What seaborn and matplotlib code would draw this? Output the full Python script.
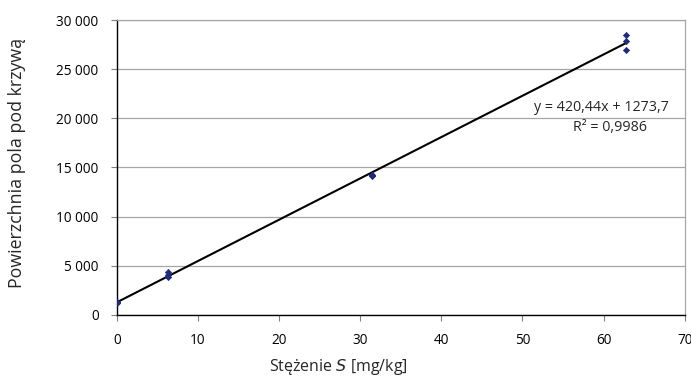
import numpy as np
import pandas as pd
import matplotlib
matplotlib.use("Agg")
import matplotlib.pyplot as plt
import seaborn as sns
from matplotlib.ticker import FuncFormatter, MultipleLocator

# measured calibration points
conc = [0, 0, 0, 6.28, 6.28, 6.28, 31.4, 31.4, 31.4, 62.8, 62.8, 62.8]
area = [1250, 1300, 1330, 3900, 4050, 4400, 14100, 14200, 14250, 27000, 27900, 28500]

# trend line from the chart
slope = 420.44
intercept = 1273.7
eq_label = "y = 420,44x + 1273,7"
r2_label = "R² = 0,9986"

df = pd.DataFrame({"conc": conc, "area": area})
fit_x = np.array([min(conc), max(conc)])
fit = pd.DataFrame({"conc": fit_x, "area": slope * fit_x + intercept})

sns.set_theme(style="white")
plt.rcParams['font.family'] = ['Open Sans', 'DejaVu Sans']

fig = plt.figure(figsize=(6.91, 3.78), dpi=100)
ax = fig.add_axes([0.169, 0.167, 0.822, 0.780])

sns.lineplot(data=fit, x="conc", y="area", color="black", linewidth=1.5, ax=ax)
sns.scatterplot(data=df, x="conc", y="area", marker="D", s=10, color="#1f2a7a",
                edgecolor="#1f2a7a", linewidth=0.5, ax=ax, zorder=3)

ax.set_xlim(0, 70)
ax.set_ylim(0, 30000)
ax.xaxis.set_major_locator(MultipleLocator(10))
ax.yaxis.set_major_locator(MultipleLocator(5000))
ax.yaxis.set_major_formatter(FuncFormatter(lambda v, p: f"{int(v):,}".replace(",", " ")))
ax.grid(axis="y", color="#a6a6a6", linewidth=0.9)
ax.set_axisbelow(True)

for side in ["left", "bottom"]:
    ax.spines[side].set_color("black")
    ax.spines[side].set_linewidth(1.0)
for side in ["top", "right"]:
    ax.spines[side].set_color("#a6a6a6")
    ax.spines[side].set_linewidth(0.9)

ax.tick_params(axis="both", which="major", direction="out", length=4, width=0.8,
               color="#808080", labelsize=9.8, labelcolor="black", bottom=True, left=True)
ax.tick_params(axis="y", pad=9)
ax.tick_params(axis="x", pad=9)

ax.set_xlabel("Stężenie $\\it{S}$ [mg/kg]", fontsize=11.5)
ax.xaxis.set_label_coords(0.39, -0.143)
ax.set_ylabel("Powierzchnia pola pod krzywą", fontsize=12.8)
ax.yaxis.set_label_coords(-0.160, 0.515)

ax.text(0.854, 0.702, eq_label, transform=ax.transAxes, ha="center", va="center", fontsize=10.3)
ax.text(0.868, 0.634, r2_label, transform=ax.transAxes, ha="center", va="center", fontsize=10.3)

fig.savefig("out.png", dpi=100)
